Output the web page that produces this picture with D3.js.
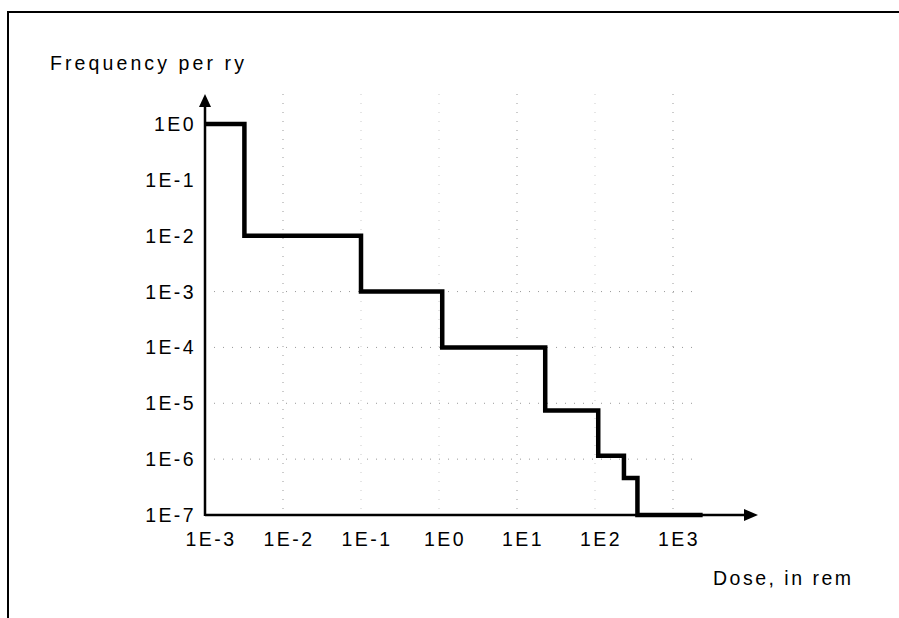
<!DOCTYPE html>
<html>
<head>
<meta charset="utf-8">
<script src="https://cdn.jsdelivr.net/npm/d3@7"></script>
<style>
  body { margin: 0; background: #fff; }
  text { font-family: "Liberation Sans", Arial, sans-serif; fill: #000; }
</style>
</head>
<body>
<div id="chart"></div>
<script>
// step curve: dose thresholds (rem) and frequency per reactor-year
const stepDose = [1e-3, 3.2e-3, 0.1, 1.1, 23, 110, 235, 350, 2400];
const stepFreq = [1, 1e-2, 1e-3, 1e-4, 7.4e-6, 1.15e-6, 4.6e-7, 1e-7];

const xTicks = [1e-3, 1e-2, 1e-1, 1e0, 1e1, 1e2, 1e3];
const xTickLabels = ["1E-3", "1E-2", "1E-1", "1E0", "1E1", "1E2", "1E3"];
const yTicks = [1e0, 1e-1, 1e-2, 1e-3, 1e-4, 1e-5, 1e-6, 1e-7];
const yTickLabels = ["1E0", "1E-1", "1E-2", "1E-3", "1E-4", "1E-5", "1E-6", "1E-7"];

const width = 899, height = 618;
const x0 = 205, y0 = 515;

const svg = d3.select("#chart").append("svg")
    .attr("width", width)
    .attr("height", height);

const x = d3.scaleLog().domain([1e-3, 1e3]).range([x0, x0 + 6 * 78]);
const y = d3.scaleLog().domain([1e-7, 1e0]).range([y0, 124]);

// outer frame
svg.append("rect")
    .attr("x", 8).attr("y", 12)
    .attr("width", 960).attr("height", 700)
    .attr("fill", "none").attr("stroke", "#000").attr("stroke-width", 2);

// dotted grid (faint, as in the scanned original)
const grid = svg.append("g").attr("stroke", "#999").attr("stroke-width", 1)
    .attr("stroke-dasharray", "1,8");
grid.selectAll("line.v")
  .data(xTicks.slice(1))
  .enter().append("line")
    .attr("x1", d => x(d)).attr("x2", d => x(d))
    .attr("y1", y(1) - 30).attr("y2", y0)
    .attr("stroke-opacity", (d, i) => [1, 0.5, 0.5, 1, 0.5, 1][i]);
grid.selectAll("line.h")
  .data(yTicks.slice(3, 7))
  .enter().append("line")
    .attr("x1", x0).attr("x2", x(2000))
    .attr("y1", d => y(d)).attr("y2", d => y(d));

// axes with arrows
svg.append("line")
    .attr("x1", x0).attr("x2", x0)
    .attr("y1", y0 + 1).attr("y2", 104)
    .attr("stroke", "#000").attr("stroke-width", 2.5);
svg.append("path")
    .attr("d", `M${x0},94 L${x0 - 6},107 L${x0 + 6},107 Z`)
    .attr("fill", "#000");
svg.append("line")
    .attr("x1", x0).attr("x2", 748)
    .attr("y1", y0).attr("y2", y0)
    .attr("stroke", "#000").attr("stroke-width", 2.5);
svg.append("path")
    .attr("d", `M758,${y0} L744,${y0 - 6} L744,${y0 + 6} Z`)
    .attr("fill", "#000");

// tick labels
svg.selectAll("text.ylab")
  .data(yTicks)
  .enter().append("text")
    .attr("class", "ylab")
    .attr("x", 196)
    .attr("y", d => y(d) + 7)
    .attr("text-anchor", "end")
    .attr("font-size", 19.5)
    .attr("letter-spacing", 2.4)
    .text((d, i) => yTickLabels[i]);
svg.selectAll("text.xlab")
  .data(xTicks)
  .enter().append("text")
    .attr("class", "xlab")
    .attr("x", d => x(d) + 6)
    .attr("y", 546)
    .attr("text-anchor", "middle")
    .attr("font-size", 19.5)
    .attr("letter-spacing", 2.4)
    .text((d, i) => xTickLabels[i]);

// axis titles
svg.append("text").attr("x", 50).attr("y", 70)
    .attr("font-size", 19.5).attr("letter-spacing", 3.1)
    .text("Frequency per ry");
svg.append("text").attr("x", 713).attr("y", 585)
    .attr("font-size", 19.5).attr("letter-spacing", 2.5)
    .text("Dose, in rem");

// step curve
const pts = [];
stepFreq.forEach((f, i) => {
  pts.push([stepDose[i], f]);
  pts.push([stepDose[i + 1], f]);
});
svg.append("path")
    .datum(pts)
    .attr("fill", "none")
    .attr("stroke", "#000")
    .attr("stroke-width", 4.5)
    .attr("stroke-linejoin", "miter")
    .attr("d", d3.line().x(d => x(d[0])).y(d => y(d[1])));
</script>
</body>
</html>
